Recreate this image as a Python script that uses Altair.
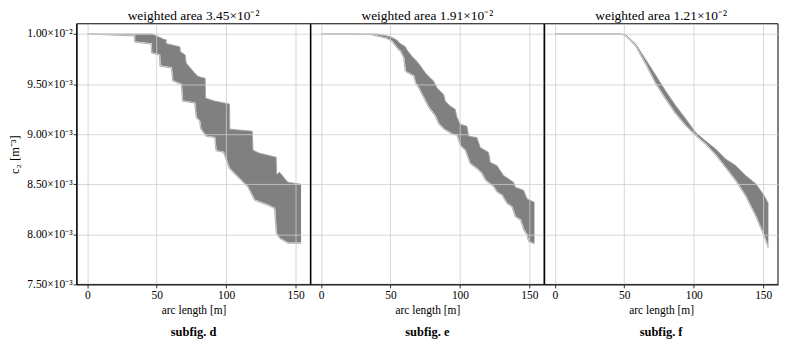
import altair as alt
import pandas as pd

# ---------------- data (c2 in units of 1e-3 m^-3, arc length in m) ----------------
# subfig d
d_upper_x = [0, 47, 51, 55.7, 56.8, 56.8, 66.7, 67.0, 70.5, 71.2, 77.3, 79.6, 84.9, 85.2, 91.7,
             102.4, 102.6, 118.8, 119.3, 124, 136, 136.3, 138.4, 144.4, 153.9]
d_upper_y = [10.0, 10.0, 9.973, 9.944, 9.944, 9.905, 9.872, 9.825, 9.79, 9.71, 9.61, 9.577, 9.557, 9.36, 9.33,
             9.30, 9.05, 9.03, 8.84, 8.81, 8.77, 8.60, 8.62, 8.52, 8.50]
d_lower_x = [0, 17.4, 34.0, 34.0, 46.0, 46.2, 52.0, 52.3, 60.5, 61.5, 67.7, 68.5, 77.3, 78.4, 80.8,
             81.7, 85.4, 91.7, 92.6, 98.0, 102.4, 108.4, 115.6, 120.4, 130.0, 134.8, 136.0, 138.4, 144.4, 153.9]
d_lower_y = [10.0, 9.99, 9.98, 9.92, 9.90, 9.81, 9.79, 9.68, 9.66, 9.53, 9.495, 9.33, 9.31, 9.164, 9.13,
             9.05, 8.98, 8.966, 8.835, 8.818, 8.653, 8.57, 8.471, 8.34, 8.29, 8.257, 8.01, 7.96, 7.911, 7.911]

# subfig e
e_upper_x = [0, 40.3, 49.9, 54.5, 56.9, 60.6, 61.9, 65.5, 69.1, 72.7, 75.1, 81.1, 83.5, 88.3, 89.4, 93.0,
             96.6, 97.6, 99.1, 100.2, 105.0, 106.3, 112.2, 114.6, 120.6, 121.8, 126.6, 131.4, 138.6, 139.8,
             145.8, 148.2, 153.0, 153.6]
e_upper_y = [10.0, 10.0, 9.973, 9.94, 9.906, 9.874, 9.84, 9.775, 9.726, 9.66, 9.61, 9.528, 9.46, 9.396, 9.33, 9.28,
             9.248, 9.18, 9.13, 9.10, 9.08, 8.98, 8.966, 8.867, 8.818, 8.719, 8.686, 8.587, 8.52, 8.471,
             8.44, 8.356, 8.323, 8.32]
e_lower_x = [0, 11.5, 35.5, 47.3, 51.0, 54.7, 57.1, 59.5, 60.6, 66.7, 67.9, 70.3, 73.9, 77.6, 82.2, 84.7,
             88.3, 94.2, 97.8, 100.2, 103.8, 107.4, 112.2, 115.8, 118.3, 124.3, 126.6, 130.2, 133.8, 137.4,
             139.8, 143.5, 145.9, 148.2, 149.4, 153.6]
e_lower_y = [10.0, 10.0, 9.995, 9.956, 9.924, 9.857, 9.825, 9.758, 9.627, 9.577, 9.51, 9.46, 9.362, 9.263, 9.18, 9.10,
             9.05, 9.0, 8.99, 8.884, 8.835, 8.703, 8.653, 8.604, 8.538, 8.471, 8.422, 8.389, 8.307, 8.273,
             8.174, 8.142, 8.043, 7.993, 7.927, 7.904]

# subfig f
f_x = [0, 48.2, 51.1, 58.3, 65.5, 72.7, 79.9, 87.1, 94.2, 101.4, 108.6, 115.8, 123.0, 130.2, 137.4, 144.6, 150.6, 153.7]
f_upper_y = [10.0, 10.0, 9.99, 9.897, 9.743, 9.587, 9.428, 9.283, 9.154, 9.016, 8.932, 8.851, 8.752, 8.686, 8.587,
             8.505, 8.389, 8.307]
f_lower_y = [10.0, 9.998, 9.978, 9.874, 9.693, 9.498, 9.343, 9.198, 9.082, 8.983, 8.895, 8.79, 8.663, 8.532, 8.379,
             8.181, 7.983, 7.861]

titles = ["weighted area 3.45×10⁻²", "weighted area 1.91×10⁻²", "weighted area 1.21×10⁻²"]
subfigs = ["subfig.  d", "subfig.  e", "subfig.  f"]
x_ticks = [0, 50, 100, 150]
y_ticks = [7.5, 8.0, 8.5, 9.0, 9.5, 10.0]

# ---------------- chart ----------------
FONT = "Liberation Serif"
W, H = 235, 262
X_DOMAIN = [-7.65, 160.65]
Y_DOMAIN = [7.5, 10.102]
EDGE = "#a6a6a6"

Y_LABELS = "datum.value == 10 ? '1.00×10⁻²' : format(datum.value, '.2f') + '×10⁻³'"


def panel(ux, uy, lx, ly, title, sub, first):
    up = pd.DataFrame({"x": ux, "y": uy, "b": [Y_DOMAIN[0]] * len(ux)})
    lo = pd.DataFrame({"x": lx, "y": ly, "b": [Y_DOMAIN[0]] * len(lx)})
    xs = alt.Scale(domain=X_DOMAIN, nice=False, zero=False)
    ys = alt.Scale(domain=Y_DOMAIN, nice=False, zero=False)
    xax = alt.Axis(values=x_ticks, title="arc length [m]", zindex=1, grid=True)
    if first:
        yax = alt.Axis(values=y_ticks, labelExpr=Y_LABELS, title="c₂ [m⁻³]", zindex=1, grid=True)
    else:
        yax = alt.Axis(values=y_ticks, labels=False, ticks=False, title=None, zindex=1, grid=True,
                       domain=True, minExtent=0, maxExtent=0, labelPadding=0, offset=0)

    X = alt.X("x:Q", scale=xs, axis=xax)
    Y = alt.Y("y:Q", scale=ys, axis=yax)
    gray = alt.Chart(up).mark_area(color="#808080").encode(x=X, y=Y, y2="b:Q")
    white = alt.Chart(lo).mark_area(color="white", stroke="white", strokeWidth=1.6).encode(
        x=X, y=Y, y2="b:Q")
    edge_up = alt.Chart(up).mark_line(color=EDGE, strokeWidth=0.9).encode(x=X, y=Y)
    edge_lo = alt.Chart(lo).mark_line(color=EDGE, strokeWidth=0.9).encode(x=X, y=Y)
    frame = alt.Chart(pd.DataFrame({"f": [0]})).mark_rect(
        filled=False, stroke="black", strokeWidth=1
    ).encode(x=alt.value(0), x2=alt.value(W), y=alt.value(0), y2=alt.value(H))
    label = alt.Chart(pd.DataFrame({"t": [sub]})).mark_text(
        font=FONT, fontSize=12.5, fontWeight="bold", baseline="middle", align="center", color="black"
    ).encode(text="t:N", x=alt.value(W / 2), y=alt.value(H + 48))

    return alt.layer(gray, white, edge_up, edge_lo, frame, label).properties(
        width=W, height=H,
        title=alt.TitleParams(title, font=FONT, fontSize=13.5, fontWeight="normal", offset=1,
                              frame="group", anchor="middle", color="black"),
    )


p1 = panel(d_upper_x, d_upper_y, d_lower_x, d_lower_y, titles[0], subfigs[0], True)
p2 = panel(e_upper_x, e_upper_y, e_lower_x, e_lower_y, titles[1], subfigs[1], False)
p3 = panel(f_x, f_upper_y, f_x, f_lower_y, titles[2], subfigs[2], False)

chart = alt.hconcat(p1, p2, p3, spacing=0, bounds="flush").properties(
    padding={"left": 0, "top": 0, "right": 2, "bottom": 0}
).configure_view(
    strokeWidth=0
).configure_axis(
    labelFont=FONT, labelFontSize=11.5, labelColor="black",
    titleFont=FONT, titleFontSize=12.5, titleFontWeight="normal", titleColor="black",
    domainColor="black", domainWidth=1, tickColor="black", tickSize=3.5, tickWidth=0.8,
    gridColor="#cccccc", gridWidth=0.8, labelPadding=2,
).configure_axisX(titlePadding=3, titleFontSize=11.5).configure_axisY(titlePadding=5, labelPadding=1)

chart.save("out.html", embed_options={"renderer": "svg", "actions": False})
